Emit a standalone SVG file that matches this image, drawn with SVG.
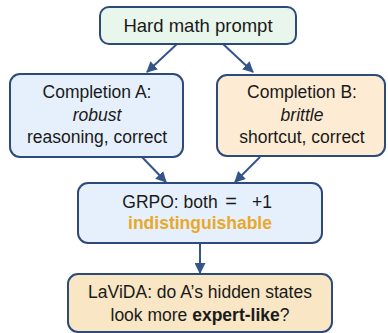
<svg xmlns="http://www.w3.org/2000/svg" width="388" height="333" viewBox="0 0 388 333">
<defs>
<style>
.box{stroke:#2c4a7a;stroke-width:2}
.t{font-family:"Liberation Sans",Arial,sans-serif;font-size:17.5px;fill:#1a1a1a;text-anchor:middle}
.c{stroke:#34558a;stroke-width:2;fill:none}
</style>
<marker id="ah" viewBox="0 0 10 10" refX="9" refY="5" markerWidth="5.5" markerHeight="5.5" orient="auto" markerUnits="strokeWidth">
<path d="M0,0 L10,5 L0,10 z" fill="#34558a"/>
</marker>
</defs>
<rect width="388" height="333" fill="#ffffff"/>
<g id="connectors">
<line class="c" x1="177" y1="44" x2="147" y2="72" marker-end="url(#ah)"/>
<line class="c" x1="223" y1="44" x2="253" y2="72" marker-end="url(#ah)"/>
<line class="c" x1="142" y1="157" x2="166" y2="182" marker-end="url(#ah)"/>
<line class="c" x1="260" y1="157" x2="235" y2="182" marker-end="url(#ah)"/>
<line class="c" x1="200" y1="243" x2="200" y2="273" marker-end="url(#ah)"/>
</g>
<g id="prompt">
<rect class="box" x="100" y="7" width="196" height="37" rx="9" fill="#e9f6ec"/>
<text class="t" x="198" y="32" style="font-size:18.5px">Hard math prompt</text>
</g>
<g id="completionA">
<rect class="box" x="10" y="74" width="173" height="83" rx="10" fill="#e6f0fc"/>
<text class="t" x="97" y="98">Completion A:</text>
<text class="t" x="97" y="121" font-style="italic">robust</text>
<text class="t" x="97" y="143">reasoning, correct</text>
</g>
<g id="completionB">
<rect class="box" x="217" y="75" width="168" height="81" rx="10" fill="#fdebd3"/>
<text class="t" x="302" y="98">Completion B:</text>
<text class="t" x="302" y="121" font-style="italic">brittle</text>
<text class="t" x="302" y="143">shortcut, correct</text>
</g>
<g id="grpo">
<rect class="box" x="78" y="183" width="244" height="60" rx="10" fill="#e6f0fc"/>
<text class="t" x="170" y="208">GRPO: both</text>
<text class="t" x="231" y="208" style="font-size:20px">=</text>
<text class="t" x="262" y="208">+1</text>
<text class="t" x="200" y="229" style="font-weight:bold;fill:#e8a92a">indistinguishable</text>
</g>
<g id="lavida">
<rect class="box" x="68" y="274" width="264" height="58" rx="10" fill="#f8e6c4"/>
<text class="t" x="200" y="298">LaViDA: do A’s hidden states</text>
<text class="t" x="200" y="321">look more <tspan font-weight="bold">expert-like</tspan>?</text>
</g>
</svg>
